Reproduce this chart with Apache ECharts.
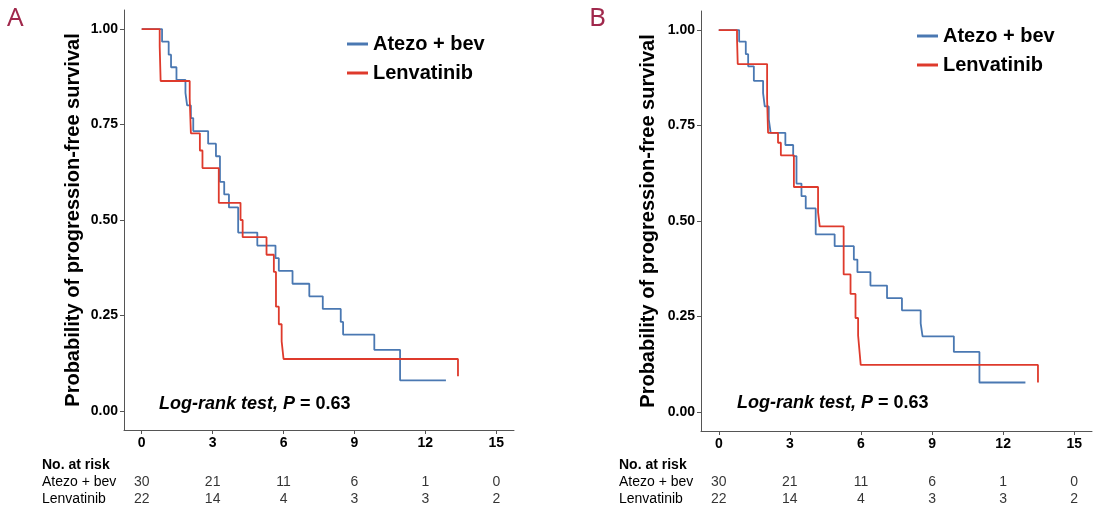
<!DOCTYPE html>
<html><head><meta charset="utf-8">
<script src="https://cdn.jsdelivr.net/npm/echarts@6/dist/echarts.min.js"></script>
<style>html,body{margin:0;padding:0;background:#fff}#c{width:1097px;height:515px}</style>
</head><body><div id="c"></div>
<script>
// ---- data ----
const xTicks = [0, 3, 6, 9, 12, 15];
const yTicks = [0, 0.25, 0.5, 0.75, 1];
const groups = ['Atezo + bev', 'Lenvatinib'];
// Panel A (months, survival probability)
const atezoA_t = [0, 0.86, 1.14, 1.24, 1.47, 1.85, 1.92, 2.08, 2.18, 2.81, 3.14, 3.31, 3.49, 3.69, 4.08, 4.89, 5.66, 5.80, 6.38, 7.09, 7.66, 8.42, 8.52, 9.84, 10.93, 12.87];
const atezoA_s = [1, 0.967, 0.933, 0.900, 0.867, 0.833, 0.800, 0.767, 0.733, 0.700, 0.667, 0.600, 0.567, 0.533, 0.467, 0.433, 0.400, 0.367, 0.333, 0.300, 0.267, 0.233, 0.200, 0.160, 0.080, 0.080];
const lenvA_t = [0, 0.76, 0.80, 2.03, 2.08, 2.46, 2.57, 3.26, 4.18, 4.27, 5.28, 5.59, 5.68, 5.80, 5.92, 6.00, 13.38];
const lenvA_s = [1, 0.955, 0.864, 0.818, 0.727, 0.682, 0.636, 0.545, 0.500, 0.455, 0.409, 0.364, 0.273, 0.227, 0.182, 0.136, 0.091];
// Panel B
const atezoB_t = [0, 0.86, 1.14, 1.24, 1.48, 1.87, 1.94, 2.11, 2.19, 2.81, 3.14, 3.28, 3.49, 3.67, 4.09, 4.89, 5.70, 5.85, 6.40, 7.10, 7.73, 8.52, 8.60, 9.92, 11.00, 12.94];
const atezoB_s = [1, 0.970, 0.937, 0.905, 0.867, 0.835, 0.800, 0.766, 0.731, 0.699, 0.670, 0.598, 0.565, 0.533, 0.465, 0.434, 0.399, 0.366, 0.331, 0.298, 0.266, 0.232, 0.198, 0.157, 0.077, 0.077];
const lenvB_t = [0, 0.77, 0.80, 2.04, 2.08, 2.50, 2.62, 3.17, 4.19, 4.26, 5.27, 5.56, 5.77, 5.88, 5.95, 5.99, 13.47];
const lenvB_s = [1, 0.979, 0.911, 0.819, 0.731, 0.705, 0.672, 0.589, 0.523, 0.486, 0.360, 0.309, 0.246, 0.200, 0.151, 0.123, 0.077];
// Number at risk
const riskAtezo = [30, 21, 11, 6, 1, 0];
const riskLenv = [22, 14, 4, 3, 3, 2];
const pText = 'Log-rank test, P = 0.63';

// ---- chart ----
const FONT = '"Liberation Sans", Arial, sans-serif';
const BLUE = '#4a78b2', RED = '#de3a2c', AX = '#555';
const pair = (t, s) => t.map((v, i) => [v, s[i]]);

function plotX(g) {
  return { gridIndex: g, type: 'value', min: -0.75, max: 15.75,
    axisLine: { show: true, onZero: false, lineStyle: { color: AX, width: 1 } },
    axisTick: { show: true, customValues: xTicks, length: 4, lineStyle: { color: AX } },
    axisLabel: { customValues: xTicks, fontFamily: FONT, fontWeight: 'bold', fontSize: 14, color: '#000', margin: 6 },
    splitLine: { show: false } };
}
function plotY(g, gap) {
  return { gridIndex: g, type: 'value', min: -0.05, max: 1.05,
    name: 'Probability of progression-free survival', nameLocation: 'middle', nameGap: gap,
    nameTextStyle: { fontFamily: FONT, fontWeight: 'bold', fontSize: 20, color: '#000' },
    axisLine: { show: true, onZero: false, lineStyle: { color: AX, width: 1 } },
    axisTick: { show: true, customValues: yTicks, length: 4, lineStyle: { color: AX } },
    axisLabel: { customValues: yTicks, formatter: v => v.toFixed(2), fontFamily: FONT, fontWeight: 'bold', fontSize: 14, color: '#000', margin: 6 },
    splitLine: { show: false } };
}
function riskX(g) {
  return { gridIndex: g, type: 'value', min: -0.75, max: 15.75, show: false };
}
function riskY(g) {
  return { gridIndex: g, type: 'category', data: [groups[1], groups[0]],
    axisLine: { show: false }, axisTick: { show: false },
    axisLabel: { interval: 0, hideOverlap: false, align: 'left', margin: 82, fontFamily: FONT, fontSize: 14, color: '#000' } };
}
function line(name, data, xi, color) {
  return { name, type: 'line', step: 'end', xAxisIndex: xi, yAxisIndex: xi, data, showSymbol: false,
    symbol: 'none', lineStyle: { color, width: 1.8 }, itemStyle: { color }, animation: false };
}
function risk(xi) {
  const d = [];
  xTicks.forEach((t, i) => { d.push([t, groups[0], riskAtezo[i]]); d.push([t, groups[1], riskLenv[i]]); });
  return { type: 'scatter', xAxisIndex: xi, yAxisIndex: xi, data: d, symbolSize: 1,
    itemStyle: { color: 'rgba(0,0,0,0)' }, animation: false, silent: true,
    label: { show: true, position: 'inside', formatter: p => String(p.value[2]), fontFamily: FONT, fontSize: 14, color: '#000' } };
}
function legend(left, top, gap) {
  return { left, top, orient: 'vertical', icon: 'rect', itemWidth: 21, itemHeight: 3, itemGap: gap,
    data: groups, textStyle: { fontFamily: FONT, fontWeight: 'bold', fontSize: 20, color: '#000', lineHeight: 20 } };
}
function txt(x, y, text, style) {
  return { type: 'text', x, y, style: Object.assign({ text, fontFamily: FONT, fill: '#000' }, style) };
}
function logrank(x, y) {
  const parts = pText.split('= ');
  return { type: 'text', x, y, style: { text: '{i|' + parts[0] + '}{n|= ' + parts[1] + '}', verticalAlign: 'middle',
    rich: { i: { fontFamily: FONT, fontSize: 18, fontWeight: 'bold', fontStyle: 'italic', fill: '#000' },
            n: { fontFamily: FONT, fontSize: 18, fontWeight: 'bold', fill: '#000' } } } };
}

const chart = echarts.init(document.getElementById('c'), null, { renderer: 'canvas' });
chart.setOption({
  backgroundColor: '#fff',
  animation: false,
  grid: [
    { left: 124, top: 10, width: 390, height: 420 },
    { left: 701, top: 11, width: 391, height: 420 },
    { left: 124, top: 474, width: 390, height: 34 },
    { left: 701, top: 474, width: 391, height: 34 }
  ],
  xAxis: [plotX(0), plotX(1), riskX(2), riskX(3)],
  yAxis: [plotY(0, 41), plotY(1, 43), riskY(2), riskY(3)],
  legend: [legend(342, 29, 9), legend(912, 21, 9)],
  series: [
    line(groups[0], pair(atezoA_t, atezoA_s), 0, BLUE),
    line(groups[1], pair(lenvA_t, lenvA_s), 0, RED),
    line(groups[0], pair(atezoB_t, atezoB_s), 1, BLUE),
    line(groups[1], pair(lenvB_t, lenvB_s), 1, RED),
    risk(2), risk(3)
  ],
  graphic: [
    txt(7, 6, 'A', { fontFamily: '"Noto Sans", sans-serif', fontSize: 26, fill: '#a0284c' }),
    txt(589, 6, 'B', { fontFamily: '"Noto Sans", sans-serif', fontSize: 26, fill: '#a0284c' }),
    txt(42, 458, 'No. at risk', { fontSize: 14, fontWeight: 'bold' }),
    txt(619, 458, 'No. at risk', { fontSize: 14, fontWeight: 'bold' }),
    logrank(159, 404),
    logrank(737, 403)
  ]
});
</script></body></html>
